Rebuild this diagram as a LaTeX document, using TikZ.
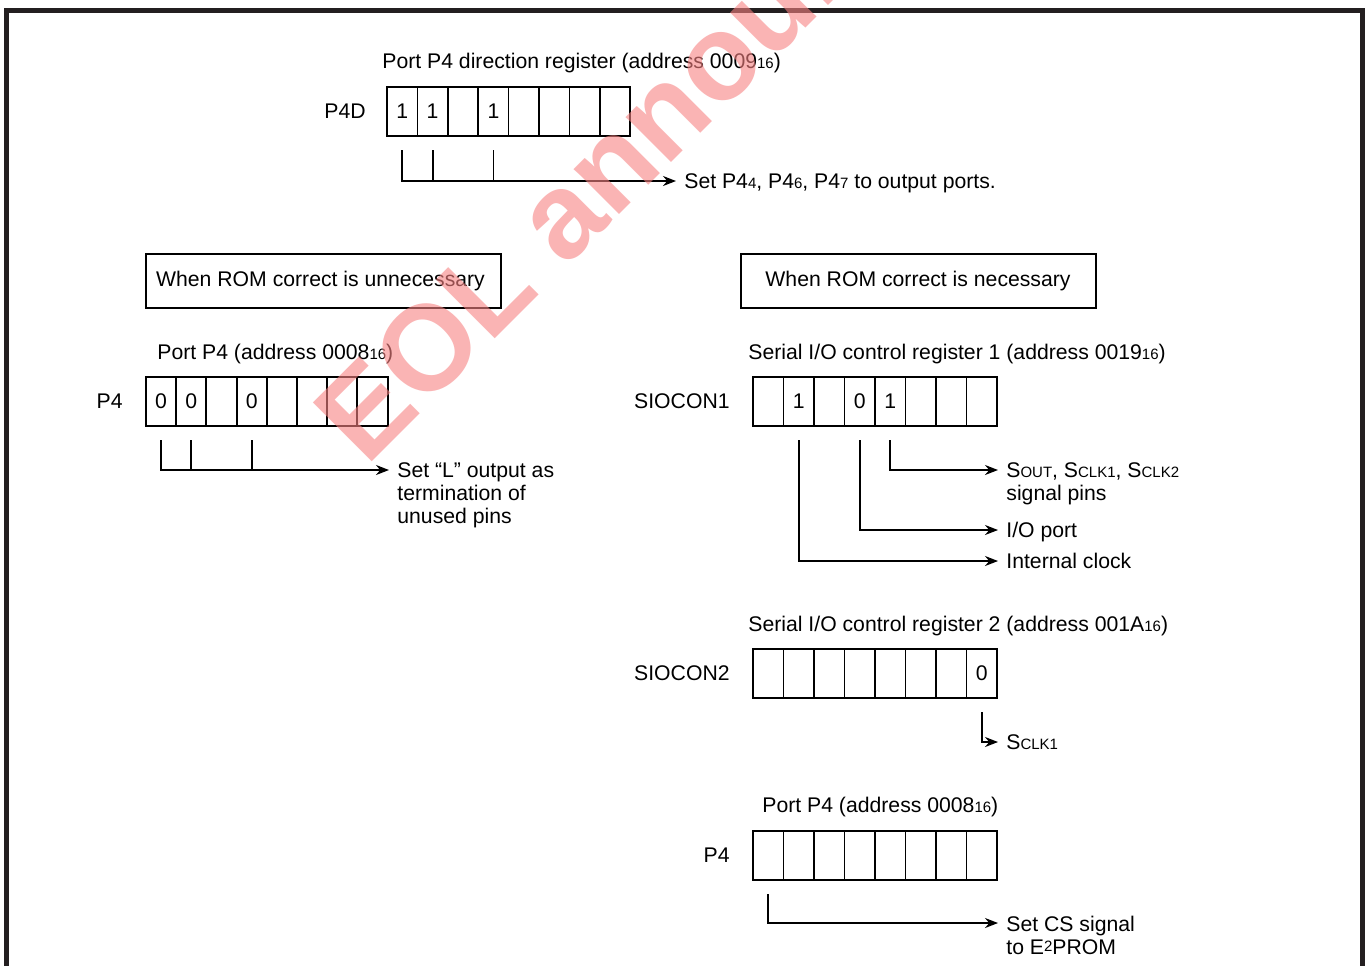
\documentclass[tikz,border=0pt]{standalone}
\usepackage{fontspec}
\setmainfont{Liberation Sans}
\usetikzlibrary{arrows.meta}
\newcommand\smtxt[1]{{\fontsize{7.5}{7.5}\selectfont #1}}
\definecolor{frame}{RGB}{35,31,32}
\definecolor{wmark}{RGB}{247,130,130}
\begin{document}
\begin{tikzpicture}[x=0.5pt,y=-0.5pt,
  font=\fontsize{10.6}{11.5}\selectfont,
  cell/.style={draw,line width=0.85pt,minimum width=15.2pt,minimum height=24.5pt,inner sep=0pt,outer sep=0pt},
  txt/.style={anchor=base west,inner sep=0pt},
  mtxt/.style={anchor=north west,inner sep=0pt,align=left},
  lbl/.style={anchor=base east,inner sep=0pt},
  modebox/.style={draw,line width=1pt,minimum width=177.5pt,minimum height=27pt,inner sep=0pt},
  wire/.style={line width=0.9pt},
  arr/.style={wire,-{Stealth[length=6.5pt,width=5pt]}}]
\useasboundingbox (0,0) rectangle (1368,965);
\clip (0,0) rectangle (1368,965);
\fill[white] (0,0) rectangle (1368,965);
% frame
\draw[frame,line width=2.5pt] (6.5,980) -- (6.5,10.5) -- (1362,10.5) -- (1362,980);

% ---------- P4D ----------
\node[txt] (tP4D) at (382,68.5) {Port P4 direction register (address 0009\smtxt{16})};
\node[lbl] (lP4D) at (366,118.5) {P4D};
\foreach \v [count=\i] in {1,1,{},1,{},{},{},{}}
  \node[cell] (d\i) at ({387+30.4*\i-15.2},111.5) {\v};
\node[txt] (sP4D) at (684,188.5) {Set P4\smtxt{4}, P4\smtxt{6}, P4\smtxt{7} to output ports.};
\coordinate (aP4D) at ([xshift=-4pt,yshift=3.75pt]sP4D.base west);
\draw[arr] ([yshift=-7pt]d1.south) |- (aP4D);
\draw[wire] ([yshift=-7pt]d2.south) -- (d2.south |- aP4D);
\draw[wire] ([yshift=-7pt]d4.south) -- (d4.south |- aP4D);

% ---------- left ----------
\node[modebox] (mL) at (323.5,281) {\hspace*{-3pt}When ROM correct is unnecessary};
\node[txt] (tPL) at (157,359.5) {Port P4 (address 0008\smtxt{16})};
\node[lbl] (lPL) at (123,408.5) {P4};
\foreach \v [count=\i] in {0,0,{},0,{},{},{},{}}
  \node[cell] (p\i) at ({146+30.2*\i-15.1},401.5) {\v};
\node[mtxt] (sPL) at (397,462.5) {Set “L” output as\\termination of\\unused pins};
\coordinate (aPL) at ([xshift=-4pt,yshift=-3.75pt]sPL.north west);
\draw[arr] ([yshift=-7pt]p1.south) |- (aPL);
\draw[wire] ([yshift=-7pt]p2.south) -- (p2.south |- aPL);
\draw[wire] ([yshift=-7pt]p4.south) -- (p4.south |- aPL);

% ---------- right ----------
\node[modebox] (mR) at (918,281) {When ROM correct is necessary};
\node[txt] (tS1) at (748,359.5) {Serial I/O control register 1 (address 0019\smtxt{16})};
\node[lbl] (lS1) at (730,408.5) {SIOCON1};
\foreach \v [count=\i] in {{},1,{},0,1,{},{},{}}
  \node[cell] (s\i) at ({753+30.5*\i-15.25},401.5) {\v};
\node[mtxt] (sS1a) at (1006,462.5) {S\smtxt{OUT}, S\smtxt{CLK1}, S\smtxt{CLK2}\\signal pins};
\node[txt] (sS1b) at (1006,537.5) {I/O port};
\node[txt] (sS1c) at (1006,568.5) {Internal clock};
\coordinate (aS1a) at ([xshift=-4pt,yshift=-3.75pt]sS1a.north west);
\coordinate (aS1b) at ([xshift=-4pt,yshift=3.75pt]sS1b.base west);
\coordinate (aS1c) at ([xshift=-4pt,yshift=3.75pt]sS1c.base west);
\draw[arr] ([yshift=-7pt]s5.south) |- (aS1a);
\draw[arr] ([yshift=-7pt]s4.south) |- (aS1b);
\draw[arr] ([yshift=-7pt]s2.south) |- (aS1c);

\node[txt] (tS2) at (748,631.5) {Serial I/O control register 2 (address 001A\smtxt{16})};
\node[lbl] (lS2) at (730,680.5) {SIOCON2};
\foreach \v [count=\i] in {{},{},{},{},{},{},{},0}
  \node[cell] (c\i) at ({753+30.5*\i-15.25},673.5) {\v};
\node[txt] (sS2) at (1006,749.5) {S\smtxt{CLK1}};
\coordinate (aS2) at ([xshift=-4pt,yshift=3.75pt]sS2.base west);
\draw[arr] ([yshift=-7pt]c8.south) |- (aS2);

\node[txt] (tPR) at (762,812.5) {Port P4 (address 0008\smtxt{16})};
\node[lbl] (lPR) at (730,862.5) {P4};
\foreach \v [count=\i] in {{},{},{},{},{},{},{},{}}
  \node[cell] (r\i) at ({753+30.5*\i-15.25},855.5) {\v};
\node[mtxt] (sPR) at (1006,915.5) {Set CS signal\\to E\raisebox{1.5pt}{\smtxt{2}}PROM};
\coordinate (aPR) at ([xshift=-4pt,yshift=-3.75pt]sPR.north west);
\draw[arr] ([yshift=-7pt]r1.south) |- (aPR);

% ---------- watermark ----------
\node[anchor=base west,inner sep=0pt,rotate=45,text=wmark,opacity=0.6,
  font=\fontsize{60.5}{60.5}\selectfont\bfseries] (wm) at (366,468) {EOL announced};
\end{tikzpicture}
\end{document}
